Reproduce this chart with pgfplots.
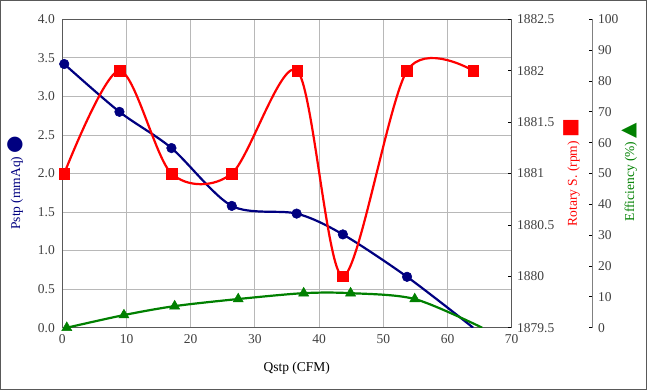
\documentclass[border=0pt]{standalone}
\usepackage{pgfplots}
\pgfplotsset{compat=1.18}
\usepackage{fontspec}
\setmainfont{Liberation Serif}
\newfontfamily\sym{DejaVu Sans}
\definecolor{navy}{RGB}{0,0,128}
\definecolor{dgreen}{RGB}{0,128,0}
\definecolor{ticklab}{RGB}{64,64,64}
\definecolor{framec}{RGB}{89,89,89}
\pgfplotsset{every axis/.append style={font=\fontsize{13.5bp}{16bp}\selectfont,
  /pgf/number format/assume math mode=true,
  tick label style={color=ticklab},
  scale only axis, anchor=south west}}
\begin{document}
\begin{tikzpicture}[x=1bp,y=1bp]
\draw[line width=1.2bp, color=framec] (0.6,0.6) rectangle (646.4,389.4);
% main axis
\begin{axis}[at={(62.3bp,62.3bp)}, width=449.4bp, height=308.4bp,
  xmin=0, xmax=70, ymin=0, ymax=4,
  xtick={0,10,...,70}, ytick={0,0.5,1,1.5,2,2.5,3,3.5,4},
  yticklabel style={/pgf/number format/fixed, /pgf/number format/fixed zerofill, /pgf/number format/precision=1, xshift=-4bp},
  grid=major, major grid style={color=black!28, line width=0.9bp},
  major tick length=0pt,
  axis line style={color=framec, line width=1bp},
  xticklabel style={yshift=-3bp},
  xlabel={Qstp (CFM)},
  xlabel style={at={(axis description cs:0.5216,-0.132)}, anchor=center},
  ylabel={\color{navy}Pstp (mmAq) {\sym\fontsize{20bp}{20bp}\selectfont ●}},
  ylabel style={at={(axis description cs:-0.105,0.47)}, anchor=center, rotate=0},
]
\addplot[navy, line width=2.2bp, smooth, tension=0.5, mark=*, mark size=4.8bp,
  mark indices={1,2,3,4,5,6,7}, mark options={fill=navy, line width=0.5bp}]
  coordinates {(0.3,3.42) (8.9,2.80) (17.0,2.33) (26.4,1.58) (36.5,1.48) (43.7,1.21) (53.7,0.66) (64.0,0)};
\end{axis}
% rotary axis
\begin{axis}[at={(62.3bp,62.3bp)}, width=449.4bp, height=308.4bp,
  xmin=0, xmax=70, ymin=1879.5, ymax=1882.5,
  axis x line=none, axis y line*=right,
  ytick={1879.5,1880,1880.5,1881,1881.5,1882,1882.5},
  scaled y ticks=false,
  yticklabel style={/pgf/number format/fixed, /pgf/number format/precision=1, /pgf/number format/1000 sep={}, xshift=2bp},
  tick align=inside, major tick length=4bp,
  tick style={color=black, line width=0.8bp},
  axis line style={color=framec, line width=1bp},
  ylabel={\color{red}Rotary S. (rpm) {\sym\fontsize{20bp}{20bp}\selectfont ■}},
  ylabel style={at={(axis description cs:1.134,0.503)}, anchor=center, rotate=0},
]
\addplot[red, line width=2.2bp, smooth, tension=0.5, mark=square*, mark size=5.4bp,
  mark options={fill=red, line width=0.5bp}]
  coordinates {(0.3,1881) (8.9,1882) (17.0,1881) (26.4,1881) (36.6,1882) (43.7,1880) (53.7,1882) (64.0,1882)};
\end{axis}
% efficiency axis
\begin{axis}[at={(62.3bp,62.3bp)}, width=530.2bp, height=308.4bp,
  xmin=0, xmax=82.59, ymin=0, ymax=100,
  axis x line=none, axis y line*=right,
  ytick={0,10,...,100},
  tick align=inside, major tick length=4bp,
  tick style={color=black, line width=0.8bp},
  axis line style={color=gray, line width=1.5bp},
  yticklabel style={xshift=2bp},
  ylabel={\color{dgreen}Efficiency (\%) {\sym\fontsize{20bp}{20bp}\selectfont ▲}},
  ylabel style={at={(axis description cs:1.069,0.505)}, anchor=center, rotate=0},
]
\addplot[dgreen, line width=2.2bp, smooth, tension=0.5, mark=triangle*, mark size=5.8bp,
  mark indices={1,2,3,4,5,6,7}, mark options={fill=dgreen, line width=0.5bp}]
  coordinates {(0.7,0) (9.6,4.1) (17.5,7.0) (27.4,9.3) (37.6,11.2) (44.9,11.2) (54.9,9.3) (65.4,0)};
\end{axis}
\end{tikzpicture}
\end{document}
